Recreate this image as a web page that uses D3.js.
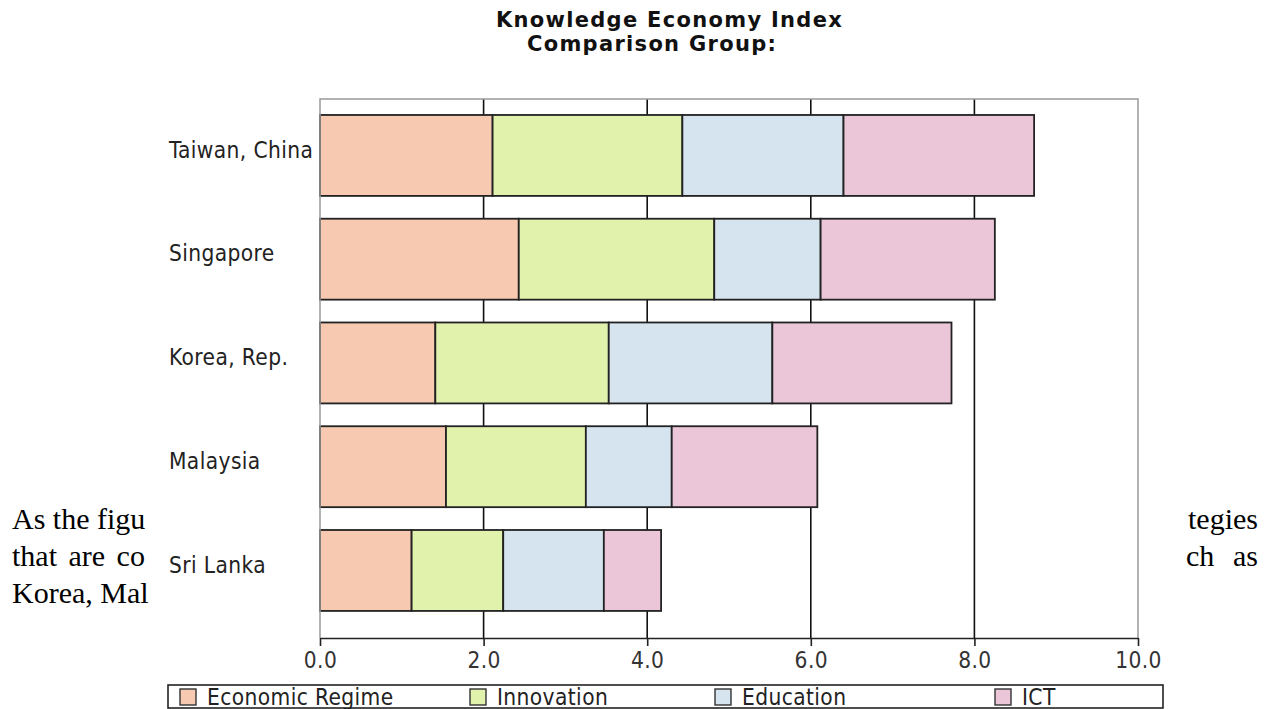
<!DOCTYPE html>
<html>
<head>
<meta charset="utf-8">
<script src="https://cdn.jsdelivr.net/npm/d3@7"></script>
<style>
  html, body { margin: 0; padding: 0; background: #fff; }
  svg { display: block; }
</style>
</head>
<body>
<svg id="page" width="1273" height="709"></svg>
<script>
// Knowledge Economy Index: four pillar scores per economy, stacked.
const categories = ["Taiwan, China", "Singapore", "Korea, Rep.", "Malaysia", "Sri Lanka"];
const seriesNames = ["Economic Regime", "Innovation", "Education", "ICT"];
const economicRegime = [2.11, 2.43, 1.41, 1.54, 1.12];
const innovation     = [2.32, 2.39, 2.12, 1.71, 1.12];
const education      = [1.97, 1.30, 2.00, 1.05, 1.23];
const ict            = [2.33, 2.13, 2.19, 1.78, 0.70];
const xTicks = [0, 2, 4, 6, 8, 10];
const seriesColors = ["#f6c9b0", "#e1f2ad", "#d6e4f0", "#eac6d8"];

// Surrounding document text on either side of the figure
const bodyLeft = [
  { text: "As the figu", y: 529, spacing: 0 },
  { text: "that are co", y: 566, spacing: 4 },
  { text: "Korea, Mal", y: 603, spacing: 0 }
];
const bodyRight = [
  { words: [["tegies", 1258, "end"]], y: 529 },
  { words: [["ch", 1186, "start"], ["as", 1258, "end"]], y: 566 }
];

const svg = d3.select("#page");

svg.append("defs").append("clipPath").attr("id", "leftMargin")
  .append("rect").attr("x", 0).attr("y", 0).attr("width", 152).attr("height", 709);

const doc = svg.append("g")
  .attr("font-family", "'Liberation Serif', 'Times New Roman', serif")
  .attr("font-size", 30)
  .attr("fill", "#000");
doc.append("g").attr("clip-path", "url(#leftMargin)")
  .selectAll("text").data(bodyLeft).join("text")
  .attr("x", 12).attr("y", d => d.y)
  .attr("word-spacing", d => d.spacing)
  .text(d => d.text);
bodyRight.forEach(line => {
  line.words.forEach(([w, xPos, anchor]) => {
    doc.append("text").attr("x", xPos).attr("y", line.y)
      .attr("text-anchor", anchor).text(w);
  });
});

const plot = { left: 320, right: 1138, top: 99, bottom: 638 };

const x = d3.scaleLinear().domain([0, 10]).range([plot.left, plot.right]);
const y = d3.scaleBand().domain(categories)
  .range([104.6, 621.3]).paddingInner(0.22).paddingOuter(0.1);

const labelFont = "'DejaVu Sans Condensed', 'DejaVu Sans', sans-serif";
const labelSize = 22.5;

// Title
const title = svg.append("g")
  .attr("font-family", "'DejaVu Sans', sans-serif")
  .attr("font-weight", "bold")
  .attr("font-size", 21)
  .attr("letter-spacing", 1.3)
  .attr("fill", "#111");
title.append("text").attr("x", 496).attr("y", 27).text("Knowledge Economy Index");
title.append("text").attr("x", 527).attr("y", 51).text("Comparison Group:");

// Vertical grid
svg.append("g").selectAll("line")
  .data(xTicks.slice(1, -1))
  .join("line")
  .attr("x1", d => x(d)).attr("x2", d => x(d))
  .attr("y1", plot.top).attr("y2", plot.bottom)
  .attr("stroke", "#111").attr("stroke-width", 1.6);

// Stacked bars
const rows = categories.map((c, i) => ({
  category: c,
  "Economic Regime": economicRegime[i],
  "Innovation": innovation[i],
  "Education": education[i],
  "ICT": ict[i]
}));
const stacked = d3.stack().keys(seriesNames)(rows);

svg.append("g").selectAll("g")
  .data(stacked)
  .join("g")
  .attr("fill", (d, i) => seriesColors[i])
  .selectAll("rect")
  .data(d => d)
  .join("rect")
  .attr("x", d => x(d[0]))
  .attr("y", d => y(d.data.category))
  .attr("width", d => x(d[1]) - x(d[0]))
  .attr("height", y.bandwidth())
  .attr("stroke", "#222")
  .attr("stroke-width", 1.8);

// Plot frame (left, top, right)
svg.append("path")
  .attr("d", `M${plot.left},${plot.bottom}V${plot.top}H${plot.right}V${plot.bottom}`)
  .attr("fill", "none").attr("stroke", "#999").attr("stroke-width", 1.5);

// Category labels
svg.append("g").selectAll("text")
  .data(categories)
  .join("text")
  .attr("x", 169)
  .attr("y", d => y(d) + y.bandwidth() / 2 - 6)
  .attr("dy", "0.36em")
  .attr("font-family", labelFont)
  .attr("font-size", labelSize)
  .attr("letter-spacing", 0.4)
  .attr("fill", "#222")
  .text(d => d);

// Value axis
const axis = svg.append("g")
  .attr("transform", `translate(0,${plot.bottom})`)
  .call(d3.axisBottom(x).tickValues(xTicks).tickFormat(d3.format(".1f"))
    .tickSize(8).tickSizeOuter(0).tickPadding(6));
axis.select(".domain").attr("stroke", "#222").attr("stroke-width", 1.6);
axis.selectAll(".tick line").attr("stroke", "#222").attr("stroke-width", 1.6);
axis.selectAll(".tick text")
  .attr("font-family", labelFont)
  .attr("font-size", labelSize)
  .attr("letter-spacing", 0.4)
  .attr("fill", "#333");

// Legend
const legendBox = { x: 168, y: 685, w: 995, h: 23 };
svg.append("rect")
  .attr("x", legendBox.x).attr("y", legendBox.y)
  .attr("width", legendBox.w).attr("height", legendBox.h)
  .attr("fill", "#fff").attr("stroke", "#222").attr("stroke-width", 1.6);

const legendX = [180, 470, 715, 995];
const legend = svg.append("g").selectAll("g")
  .data(seriesNames)
  .join("g")
  .attr("transform", (d, i) => `translate(${legendX[i]},${legendBox.y + 4})`);
legend.append("rect")
  .attr("width", 16).attr("height", 16)
  .attr("fill", (d, i) => seriesColors[i])
  .attr("stroke", "#333").attr("stroke-width", 1.4);
legend.append("text")
  .attr("x", 27).attr("y", 8).attr("dy", "0.36em")
  .attr("font-family", labelFont)
  .attr("font-size", labelSize)
  .attr("letter-spacing", 0.4)
  .attr("fill", "#222")
  .text(d => d);
</script>
</body>
</html>
